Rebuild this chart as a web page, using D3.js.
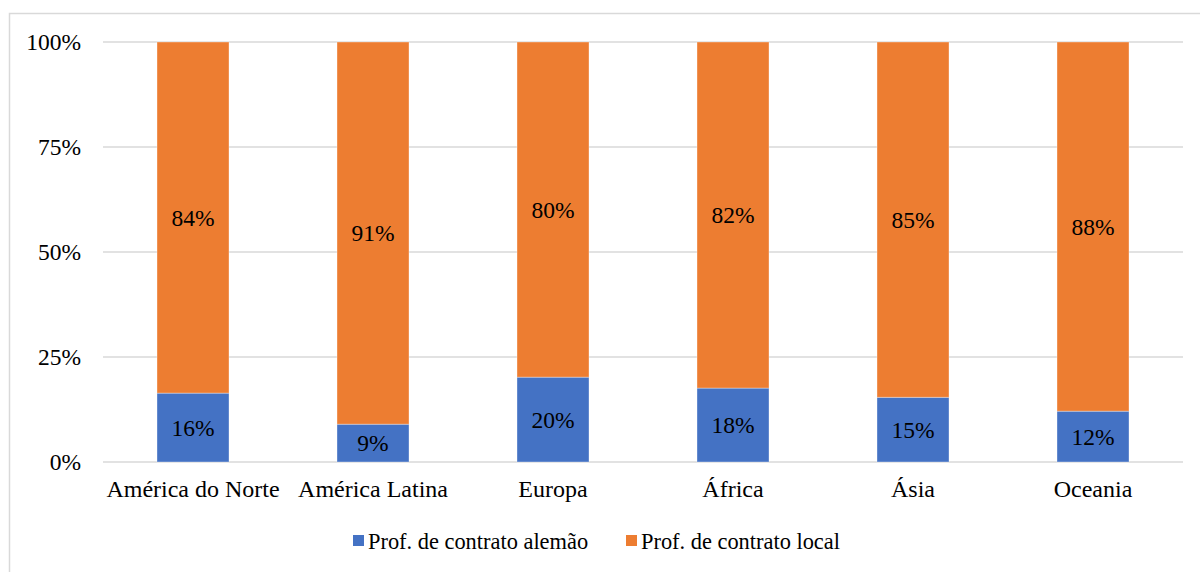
<!DOCTYPE html>
<html>
<head>
<meta charset="utf-8">
<script src="https://cdn.jsdelivr.net/npm/d3@7"></script>
<style>
  html, body { margin: 0; padding: 0; background: #fff; }
  svg { display: block; }
  svg text { font-family: "Liberation Serif", Tinos, "Times New Roman", Times, "DejaVu Serif", "Noto Serif", serif !important; fill: #000; }
</style>
</head>
<body>
<svg id="chart" width="1200" height="572"></svg>
<script>
// ---- data ----
const categories = ["América do Norte", "América Latina", "Europa", "África", "Ásia", "Oceania"];
const seriesNames = ["Prof. de contrato alemão", "Prof. de contrato local"];
const aleman = [16.4, 9.0, 20.2, 17.6, 15.4, 12.1];
const local  = [83.6, 91.0, 79.8, 82.4, 84.6, 87.9];
const yTicks = [0, 25, 50, 75, 100];
const colors = ["#4472C4", "#ED7D31"];

const FONT = '"Liberation Serif", Tinos, "Times New Roman", Times, "DejaVu Serif", serif';

// ---- layout ----
const svg = d3.select("#chart").attr("font-family", FONT);
const W = 1200, H = 572;
const plot = { left: 103, right: 1183, top: 42, bottom: 462 };

// outer frame
svg.append("rect")
  .attr("x", 9.5).attr("y", 13.5)
  .attr("width", W + 20).attr("height", H + 20)
  .attr("fill", "none").attr("stroke", "#d9d9d9").attr("stroke-width", 1.5);

const x = d3.scaleBand().domain(categories)
  .range([plot.left, plot.right]).paddingInner(0.6).paddingOuter(0.3);
const y = d3.scaleLinear().domain([0, 100]).range([plot.bottom, plot.top]);

// gridlines
svg.append("g").selectAll("line").data(yTicks).join("line")
  .attr("x1", plot.left).attr("x2", plot.right)
  .attr("y1", d => y(d)).attr("y2", d => y(d))
  .attr("stroke", "#d9d9d9").attr("stroke-width", 1.5);

// y axis labels
const yAxis = d3.axisLeft(y).tickValues(yTicks).tickFormat(d => d + "%").tickSize(0).tickPadding(0);
const gy = svg.append("g").attr("transform", `translate(81,0)`).call(yAxis)
  .attr("font-family", FONT).attr("font-size", 23.5);
gy.select(".domain").remove();
gy.selectAll("text").attr("fill", "#000").attr("dy", "0.33em");

// x axis labels
const xAxis = d3.axisBottom(x).tickSize(0).tickPadding(0);
const gx = svg.append("g").attr("transform", `translate(0,${plot.bottom})`).call(xAxis)
  .attr("font-family", FONT).attr("font-size", 24);
gx.select(".domain").remove();
gx.selectAll("text").attr("fill", "#000").attr("dy", null).attr("y", 35);

// stacked data
const rows = categories.map((c, i) => ({ cat: c, a: aleman[i], l: local[i] }));
const stack = d3.stack().keys(["a", "l"]);
const layers = stack(rows);

const g = svg.append("g");
layers.forEach((layer, li) => {
  g.append("g").selectAll("rect").data(layer).join("rect")
    .attr("x", d => x(d.data.cat))
    .attr("width", x.bandwidth())
    .attr("y", d => y(d[1]))
    .attr("height", d => y(d[0]) - y(d[1]))
    .attr("fill", colors[li])
    .attr("stroke", "rgba(255,255,255,0.35)").attr("stroke-width", 1);
  g.append("g").selectAll("text").data(layer).join("text")
    .attr("x", d => x(d.data.cat) + x.bandwidth() / 2)
    .attr("y", d => (y(d[0]) + y(d[1])) / 2)
    .attr("dy", "0.35em")
    .attr("text-anchor", "middle")
    .attr("font-size", 23.5)
    .text(d => Math.round(d[1] - d[0]) + "%");
});

// legend
const legendItems = [
  { name: seriesNames[0], color: colors[0], x: 353 },
  { name: seriesNames[1], color: colors[1], x: 626 }
];
const lg = svg.append("g");
legendItems.forEach(it => {
  lg.append("rect").attr("x", it.x).attr("y", 535).attr("width", 11).attr("height", 11).attr("fill", it.color);
  lg.append("text").attr("x", it.x + 15).attr("y", 549).attr("font-size", 22.4).text(it.name);
});
</script>
</body>
</html>
